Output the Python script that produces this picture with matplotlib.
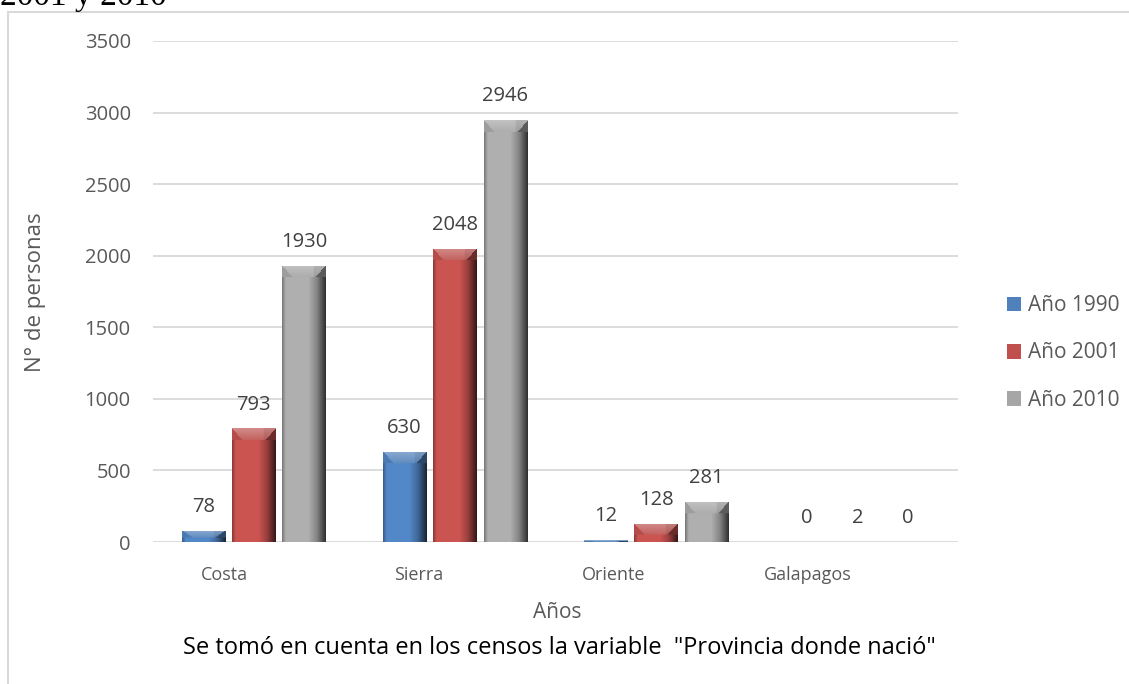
# bar chart: personas por region de nacimiento, censos 1990, 2001 y 2010

import numpy as np
import matplotlib.pyplot as plt
from matplotlib.patches import Patch, Rectangle

# data
regiones = ['Costa', 'Sierra', 'Oriente', 'Galapagos']
series = ['Año 1990', 'Año 2001', 'Año 2010']
anio_1990 = [78, 630, 12, 0]
anio_2001 = [793, 2048, 128, 2]
anio_2010 = [1930, 2946, 281, 0]
y_ticks = [0, 500, 1000, 1500, 2000, 2500, 3000, 3500]

colores = [(79, 129, 189), (192, 80, 77), (166, 166, 166)]

W, H = 1129, 684
fig = plt.figure(figsize=(W / 100, H / 100), dpi=100)
ax = fig.add_axes([153 / W, 1 - 542 / H, 805 / W, 501 / H])

tick_color = '#595959'
font = ['Open Sans', 'DejaVu Sans']


def bar_image(base, w_px, h_px, bevel=12, inset=10):
    # shaded column with a lighter bevelled top, built in pixel units
    nx = max(int(round(w_px)), 2)
    ny = max(int(round(h_px)), 1)
    base = np.array(base) / 255.0
    u = np.linspace(0, 1, nx)
    prof = np.interp(u, [0, 0.08, 0.6, 0.8, 1.0], [0.75, 1.06, 1.06, 0.8, 0.3])
    img = np.ones((ny, nx, 3)) * prof[None, :, None] * base[None, None, :]
    d = min(bevel, ny * 0.6)
    for i in range(ny):
        if i >= d:
            break
        k = i * inset / max(d, 1)
        for j in range(nx):
            if k <= j <= nx - 1 - k:
                t = i / max(d, 1)
                light = base + (1 - base) * (0.35 - 0.25 * t)
                img[i, j] = light * (0.98 if j < nx * 0.7 else 0.9)
            elif j < k:
                img[i, j] = base * 0.95
            else:
                img[i, j] = base * 0.55
    return np.clip(img, 0, 1)


# plot the bars
x = np.arange(len(regiones))
ancho = 0.215
offsets = [-0.25, 0, 0.25]
ax.set_xlim(-0.5, 3.5)
ax.set_ylim(0, 3500)
px_x = 805 / 4.0
px_y = 501 / 3500.0

for k, vals in enumerate([anio_1990, anio_2001, anio_2010]):
    col = np.array(colores[k]) / 255.0
    bars = ax.bar(x + offsets[k], vals, width=ancho, color=col, zorder=3, linewidth=0)
    for b, v in zip(bars, vals):
        if v > 0:
            img = bar_image(colores[k], b.get_width() * px_x, v * px_y)
            im = ax.imshow(img, extent=(b.get_x(), b.get_x() + b.get_width(), 0, v),
                           aspect='auto', zorder=4, interpolation='bilinear')
            im.set_clip_path(b)
        ax.annotate(str(v), (b.get_x() + b.get_width() / 2, v), xytext=(0, 10),
                    textcoords='offset points', ha='center', va='bottom',
                    fontsize=14.5, color='#404040', family=font)

# axes styling
ax.set_yticks(y_ticks)
ax.set_yticklabels([str(t) for t in y_ticks])
ax.set_xticks(x * 0.9675 - 0.147)
ax.set_xticklabels(regiones)
ax.grid(axis='y', color='#d9d9d9', linewidth=1.3, zorder=0)
ax.set_axisbelow(True)
for s in ax.spines.values():
    s.set_visible(False)
ax.tick_params(axis='y', length=0, pad=16, labelsize=14.5, labelcolor=tick_color)
ax.tick_params(axis='x', length=0, pad=17, labelsize=13, labelcolor=tick_color)
for lab in ax.get_xticklabels() + ax.get_yticklabels():
    lab.set_family(font)

fig.text(36 / W, 1 - 292 / H, 'N° de personas', rotation=90, ha='center', va='center',
         fontsize=16, color=tick_color, family=font)
fig.text(557 / W, 1 - 612 / H, 'Años', ha='center', va='center',
         fontsize=15, color=tick_color, family=font)
fig.text(559 / W, 1 - 648 / H, 'Se tomó en cuenta en los censos la variable  "Provincia donde nació"',
         ha='center', va='center', fontsize=17, color='black', family=font)

# legend
handles = [Patch(facecolor=np.array(c) / 255.0, edgecolor='none') for c in colores]
fig.legend(handles, series, loc='center left', bbox_to_anchor=(988 / W, 1 - 353 / H),
           frameon=False, labelcolor=tick_color, handlelength=0.7,
           handleheight=0.7, handletextpad=0.3, labelspacing=1.25,
           prop={'family': font, 'size': 15})

# border of the chart box and the cut title above it
fig.add_artist(Rectangle((8 / W, -0.2), 2, 1.2 - 12 / H, transform=fig.transFigure,
                         fill=False, edgecolor='#d9d9d9', linewidth=1.5))
fig.text(0, 1 - 5 / H, '2001 y 2010', ha='left', va='baseline', fontsize=24,
         family=['Liberation Serif', 'DejaVu Serif'], color='black')

fig.savefig('out.png', dpi=100)
